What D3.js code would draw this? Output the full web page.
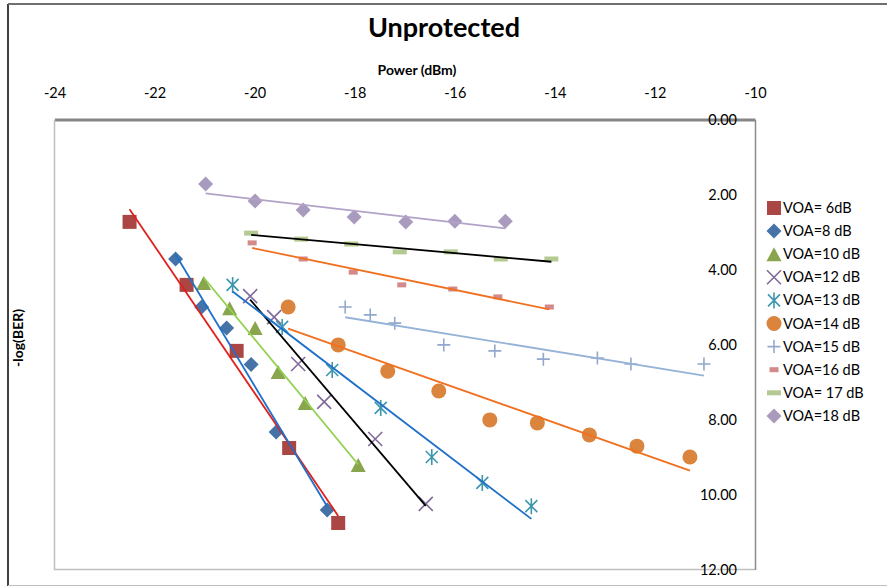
<!DOCTYPE html>
<html>
<head>
<meta charset="utf-8">
<script src="https://cdn.jsdelivr.net/npm/d3@7"></script>
<style>
  html, body { margin: 0; padding: 0; background: #fff; }
  svg { display: block; font-family: Lato, "Open Sans", sans-serif; }
</style>
</head>
<body>
<svg id="chart" width="887" height="586"></svg>
<script>
// Power (dBm) and -log(BER) readings for each VOA attenuation setting
const voa6x  = [-22.5, -21.36, -20.36, -19.31, -18.33];
const voa6y  = [2.73, 4.41, 6.17, 8.76, 10.76];
const voa8x  = [-21.58, -21.06, -20.56, -20.07, -19.57, -18.55];
const voa8y  = [3.72, 5.0, 5.56, 6.53, 8.33, 10.41];
const voa10x = [-21.02, -20.5, -19.99, -19.53, -18.99, -17.93];
const voa10y = [4.36, 5.03, 5.56, 6.73, 7.56, 9.21];
const voa12x = [-20.09, -19.61, -19.13, -18.61, -17.59, -16.58];
const voa12y = [4.71, 5.27, 6.52, 7.53, 8.52, 10.25];
const voa13x = [-20.44, -19.45, -18.45, -17.48, -16.46, -15.45, -14.47];
const voa13y = [4.41, 5.53, 6.68, 7.69, 9.0, 9.69, 10.31];
const voa14x = [-19.33, -18.33, -17.34, -16.32, -15.3, -14.35, -13.31, -12.36, -11.3];
const voa14y = [5.0, 6.01, 6.71, 7.24, 8.01, 8.09, 8.41, 8.71, 9.0];
const voa15x = [-18.19, -17.69, -17.2, -16.22, -15.2, -14.23, -13.15, -12.48, -11.02];
const voa15y = [5.0, 5.21, 5.43, 6.01, 6.17, 6.39, 6.36, 6.52, 6.52];
const voa16x = [-20.05, -19.03, -18.03, -17.06, -16.04, -15.14, -14.11];
const voa16y = [3.29, 3.72, 4.07, 4.41, 4.52, 4.73, 5.0];
const voa17x = [-20.07, -19.07, -18.07, -17.1, -16.08, -15.08, -14.07];
const voa17y = [3.03, 3.19, 3.32, 3.53, 3.53, 3.72, 3.72];
const voa18x = [-20.98, -19.99, -19.03, -18.01, -16.98, -16.0, -14.99];
const voa18y = [1.72, 2.17, 2.41, 2.6, 2.73, 2.71, 2.71];

const seriesNames = ["VOA= 6dB", "VOA=8 dB", "VOA=10 dB", "VOA=12 dB", "VOA=13 dB",
                     "VOA=14 dB", "VOA=15 dB", "VOA=16 dB", "VOA= 17 dB", "VOA=18 dB"];
const seriesX = [voa6x, voa8x, voa10x, voa12x, voa13x, voa14x, voa15x, voa16x, voa17x, voa18x];
const seriesY = [voa6y, voa8y, voa10y, voa12y, voa13y, voa14y, voa15y, voa16y, voa17y, voa18y];

const xTicks = [-24, -22, -20, -18, -16, -14, -12, -10];
const yTicks = [0, 2, 4, 6, 8, 10, 12];

// styling per series
const markerShapes = ["square", "diamond", "triangle", "x", "star", "circle", "plus", "dashS", "dashL", "diamond"];
const markerColors = ["#AA4643", "#4572A7", "#89A54E", "#80699B", "#3D96AE", "#DB843D",
                      "#92A8CD", "#D4898A", "#B5CA92", "#A99BBD"];
const trendColors  = ["#E0201C", "#1F70C8", "#92D050", "#000000", "#1F70C8", "#F07020",
                      "#95B3D7", "#F07020", "#000000", "#B3A2C7"];

const svg = d3.select("#chart");

// chart frame
svg.append("line").attr("x1", 8).attr("x2", 8).attr("y1", 4).attr("y2", 586)
  .attr("stroke", "#404040").attr("stroke-width", 2);
svg.append("line").attr("x1", 8).attr("x2", 887).attr("y1", 4).attr("y2", 4)
  .attr("stroke", "#707070").attr("stroke-width", 2);
svg.append("line").attr("x1", 8).attr("x2", 887).attr("y1", 585.5).attr("y2", 585.5)
  .attr("stroke", "#BFBFBF").attr("stroke-width", 1);

const x = d3.scaleLinear().domain([-24, -10]).range([54.5, 755]);
const y = d3.scaleLinear().domain([0, 12]).range([119.5, 569.5]);

// plot area border (left / bottom)
svg.append("path")
  .attr("d", `M${x(-24)},${y(0)}V${y(12)}H${x(-10)}`)
  .attr("fill", "none").attr("stroke", "#BFBFBF").attr("stroke-width", 1.5);

// y axis on the right edge, labels to its left
const yAxis = svg.append("g").attr("transform", `translate(${x(-10)},0)`)
  .call(d3.axisLeft(y).tickValues(yTicks).tickFormat(d3.format(".2f")).tickSize(0).tickPadding(18));
yAxis.select(".domain").attr("stroke", "#8C8C8C").attr("stroke-width", 1.5);
yAxis.selectAll("text").attr("font-size", 14.5).attr("fill", "#000")
  .attr("font-family", "Lato, 'Open Sans', sans-serif");

// x axis across the top
const xAxis = svg.append("g").attr("transform", `translate(0,${y(0)})`)
  .call(d3.axisTop(x).tickValues(xTicks).tickFormat(d => String(d)).tickSize(0).tickSizeOuter(0).tickPadding(22));
xAxis.select(".domain").attr("stroke", "#868686").attr("stroke-width", 3);
xAxis.selectAll("text").attr("font-size", 14.5).attr("fill", "#000")
  .attr("font-family", "Lato, 'Open Sans', sans-serif");
xAxis.lower();

// titles
svg.append("text").attr("x", 444).attr("y", 37).attr("text-anchor", "middle")
  .attr("font-size", 27).attr("font-weight", "bold").text("Unprotected");
svg.append("text").attr("x", 417).attr("y", 75).attr("text-anchor", "middle")
  .attr("font-size", 14).attr("font-weight", "bold").text("Power (dBm)");
svg.append("text").attr("transform", "translate(23,338) rotate(-90)").attr("text-anchor", "middle")
  .attr("font-size", 14).attr("font-weight", "bold").text("-log(BER)");

// marker drawing
function drawMarker(g, shape, color) {
  switch (shape) {
    case "square":
      g.append("rect").attr("x", -7).attr("y", -7).attr("width", 14).attr("height", 14).attr("fill", color);
      break;
    case "diamond":
      g.append("path").attr("d", "M0,-7.5L7.5,0L0,7.5L-7.5,0Z").attr("fill", color);
      break;
    case "triangle":
      g.append("path").attr("d", "M0,-7L7.5,7L-7.5,7Z").attr("fill", color);
      break;
    case "circle":
      g.append("circle").attr("r", 7.5).attr("fill", color);
      break;
    case "x":
      g.append("path").attr("d", "M-7,-7L7,7M-7,7L7,-7").attr("stroke", color).attr("stroke-width", 1.6).attr("fill", "none");
      break;
    case "star":
      g.append("path").attr("d", "M-6,-6L6,6M-6,6L6,-6M0,-8V8").attr("stroke", color).attr("stroke-width", 1.6).attr("fill", "none");
      break;
    case "plus":
      g.append("path").attr("d", "M-6.5,0H6.5M0,-6.5V6.5").attr("stroke", color).attr("stroke-width", 1.6).attr("fill", "none");
      break;
    case "dashS":
      g.append("rect").attr("x", -4.5).attr("y", -2.5).attr("width", 9).attr("height", 5).attr("fill", color);
      break;
    case "dashL":
      g.append("rect").attr("x", -7).attr("y", -2.5).attr("width", 14).attr("height", 5).attr("fill", color);
      break;
  }
}

// least-squares fit
function linearFit(xs, ys) {
  const mx = d3.mean(xs), my = d3.mean(ys);
  let sxy = 0, sxx = 0;
  xs.forEach((v, i) => { sxy += (v - mx) * (ys[i] - my); sxx += (v - mx) * (v - mx); });
  const slope = sxy / sxx;
  return v => my + slope * (v - mx);
}

const plot = svg.append("g");
const markersLayer = plot.append("g");
const trendLayer = plot.append("g");

seriesX.forEach((xs, s) => {
  const ys = seriesY[s];
  xs.forEach((xv, i) => {
    const g = markersLayer.append("g").attr("transform", `translate(${x(xv)},${y(ys[i])})`);
    drawMarker(g, markerShapes[s], markerColors[s]);
  });
  const f = linearFit(xs, ys);
  const x0 = d3.min(xs), x1 = d3.max(xs);
  trendLayer.append("line")
    .attr("x1", x(x0)).attr("y1", y(f(x0)))
    .attr("x2", x(x1)).attr("y2", y(f(x1)))
    .attr("stroke", trendColors[s]).attr("stroke-width", 1.8);
});

// legend
const legend = svg.append("g");
seriesNames.forEach((name, s) => {
  const ly = 208 + s * 23.1;
  const g = legend.append("g").attr("transform", `translate(774,${ly})`);
  drawMarker(g, markerShapes[s], markerColors[s]);
  legend.append("text").attr("x", 783).attr("y", ly).attr("dy", "0.35em")
    .attr("font-size", 14.5).attr("fill", "#000").text(name);
});
</script>
</body>
</html>
